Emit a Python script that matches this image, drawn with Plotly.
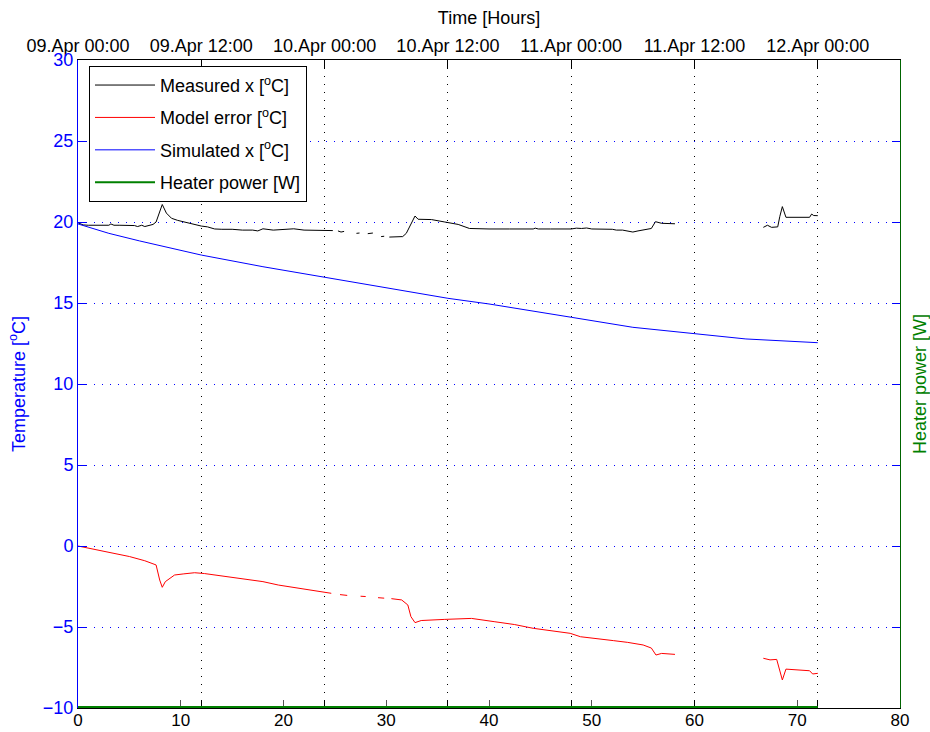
import plotly.graph_objects as go

# ---------------- data ----------------
meas_x = [0, 0.5, 1, 2, 3, 3.2, 3.5, 4, 5, 5.5, 5.8, 6.2, 6.5, 7, 7.3, 7.6, 7.95, 8.2, 8.6, 9.1,
          9.7, 10.3, 11, 12, 12.6, 13.3, 14, 15, 16, 17, 17.5, 18, 19, 20, 21, 22, 23, 24, 24.8,
          None, 25.3, 25.6, 25.9,
          None, 27.1, 27.4,
          None, 28.2, 28.7,
          None, 29.5, 29.8,
          None, 30.3, 31, 31.6, 31.95, 32.3, 32.8, 33.1, 34.4, 35.7, 37, 38.1, 39, 40, 42, 44.3,
          44.5, 44.8, 46, 48, 48.5, 49, 49.5, 50, 52, 52.4, 53, 54, 54.5, 55, 55.8, 56.2, 56.8, 58.1,
          None, 66.7, 67.1, 67.5, 68.1, 68.3, 68.55, 68.9, 71.2, 71.4, 71.6, 72]
meas_y = [19.95, 19.82, 19.80, 19.80, 19.80, 19.88, 19.80, 19.80, 19.80, 19.78, 19.72, 19.80, 19.72,
          19.80, 19.85, 20.00, 20.60, 21.08, 20.55, 20.23, 20.10, 20.00, 19.92, 19.75, 19.70, 19.57,
          19.55, 19.55, 19.50, 19.50, 19.45, 19.58, 19.50, 19.55, 19.58, 19.50, 19.48, 19.48, 19.47,
          None, 19.45, 19.38, 19.42,
          None, 19.30, 19.32,
          None, 19.28, 19.32,
          None, 19.10, 19.12,
          None, 19.07, 19.07, 19.10, 19.30, 19.71, 20.37, 20.17, 20.15, 20.00, 19.85, 19.60, 19.58,
          19.57, 19.57, 19.57, 19.62, 19.57, 19.57, 19.57, 19.62, 19.60, 19.63, 19.57, 19.55, 19.50,
          19.50, 19.38, 19.45, 19.50, 19.60, 20.02, 19.92, 19.89,
          None, 19.67, 19.80, 19.67, 19.70, 20.33, 20.95, 20.29, 20.29, 20.49, 20.40, 20.39]

err_x = [0, 1.5, 3.2, 5, 6.5, 7.2, 7.6, 7.95, 8.2, 8.5, 9.0, 9.4, 10.3, 11.35, 12.3, 14, 16.2, 18,
         19.5, 21, 22.7, 24.65,
         None, 25.5, 26.2,
         None, 27.5, 28.0,
         None, 29.2, 29.8,
         None, 30.5, 31.5, 32.1, 32.4, 32.8, 33.4, 35.7, 38.3, 40.5, 42.5, 44.3, 46, 47.9, 48.9,
         50.5, 52.1, 53.5, 55.0, 55.8, 56.25, 56.8, 58.1,
         None, 66.7, 67.35, 68.0, 68.3, 68.55, 68.9, 71.2, 71.5, 72.0]
err_y = [0, -0.2, -0.41, -0.65, -0.91, -1.05, -1.17, -2.1, -2.55, -2.2, -1.95, -1.79, -1.72, -1.65,
         -1.7, -1.85, -2.04, -2.2, -2.41, -2.55, -2.72, -2.92,
         None, -3.0, -3.05,
         None, -3.1, -3.12,
         None, -3.19, -3.22,
         None, -3.25, -3.33, -3.64, -4.36, -4.73, -4.6, -4.53, -4.47, -4.67, -4.85, -5.08, -5.22,
         -5.39, -5.6, -5.7, -5.84, -5.95, -6.11, -6.3, -6.73, -6.63, -6.69,
         None, -6.93, -7.03, -7.0, -7.65, -8.27, -7.6, -7.7, -7.9, -7.86]

sim_x = [0, 3, 6, 9, 12, 18, 24, 30, 36, 40, 44, 48, 54, 60, 65, 72]
sim_y = [19.88, 19.3, 18.83, 18.38, 17.96, 17.24, 16.59, 15.91, 15.29, 14.94, 14.55, 14.12, 13.5,
         13.09, 12.78, 12.55]

heat_x = [0, 72]
heat_y = [0, 0]

bottom_ticks = [0, 10, 20, 30, 40, 50, 60, 70, 80]
top_tickvals = [0, 12, 24, 36, 48, 60, 72]
top_ticktext = ["09.Apr 00:00", "09.Apr 12:00", "10.Apr 00:00", "10.Apr 12:00",
                "11.Apr 00:00", "11.Apr 12:00", "12.Apr 00:00"]
temp_ticks = [-10, -5, 0, 5, 10, 15, 20, 25, 30]

assert len(meas_x) == len(meas_y)
assert len(err_x) == len(err_y)

FONT = "Liberation Sans, Arial, sans-serif"
FS = 18

fig = go.Figure()
fig.add_trace(go.Scatter(x=meas_x, y=meas_y, mode="lines", name="Measured x [<sup>o</sup>C]",
                         line=dict(color="#000000", width=1), legendgroup="a"))
fig.add_trace(go.Scatter(x=err_x, y=err_y, mode="lines", name="Model error [<sup>o</sup>C]",
                         line=dict(color="#ff0000", width=1), legendgroup="b"))
fig.add_trace(go.Scatter(x=sim_x, y=sim_y, mode="lines", name="Simulated x [<sup>o</sup>C]",
                         line=dict(color="#0000ff", width=1), legendgroup="c"))
fig.add_trace(go.Scatter(x=heat_x, y=heat_y, mode="lines", name="Heater power [W]",
                         line=dict(color="#008000", width=2), legendgroup="d", yaxis="y2",
                         cliponaxis=False))
fig.add_trace(go.Scatter(x=[0, 80], y=[None, None], xaxis="x2", yaxis="y", showlegend=False,
                         hoverinfo="skip"))

fig.update_layout(
    width=930, height=732,
    margin=dict(l=78, r=30, t=60, b=24, autoexpand=False),
    paper_bgcolor="white", plot_bgcolor="white",
    font=dict(family=FONT, size=FS, color="black"),
    showlegend=True,
    legend=dict(x=0.0134, y=0.991, xanchor="left", yanchor="top",
                bgcolor="white", bordercolor="black", borderwidth=1, itemwidth=60,
                font=dict(size=FS, color="black"), tracegroupgap=6, traceorder="grouped"),
    xaxis=dict(range=[0, 80], tickvals=bottom_ticks, ticks="inside", ticklen=8,
               tickcolor="#555555", showline=True, linecolor="black", linewidth=1,
               showgrid=False, zeroline=False, automargin=False, layer="below traces",
               ticklabelstandoff=-3,
               tickfont=dict(size=17, color="black")),
    xaxis2=dict(range=[0, 80], overlaying="x", side="top", tickvals=top_tickvals,
                ticktext=top_ticktext, ticks="inside", ticklen=8, tickcolor="black",
                showline=True, linecolor="black", mirror="ticks", automargin=False,
                layer="below traces",
                showgrid=True, gridcolor="black", griddash="1px,7px", gridwidth=1,
                zeroline=False, tickfont=dict(size=FS, color="black"),
                title=dict(text="Time [Hours]", font=dict(size=FS, color="black"), standoff=6)),
    yaxis=dict(range=[-10, 30], tickvals=temp_ticks, ticks="inside", ticklen=8,
               tickcolor="#0000ff", showline=True, linecolor="#0000ff", linewidth=1,
               mirror="ticks", showgrid=True, gridcolor="#0000ff", griddash="1px,7px",
               gridwidth=1, zeroline=False, automargin=False,
               tickfont=dict(size=FS, color="#0000ff"),
               title=dict(text="Temperature [<sup>o</sup>C]", font=dict(size=FS, color="#0000ff"),
                          standoff=12)),
    yaxis2=dict(range=[-0.0016, 1], overlaying="y", side="right", showticklabels=False,
                ticks="", showgrid=False, zeroline=False, showline=True, automargin=False,
                linecolor="#006400", linewidth=1,
                title=dict(text="Heater power [W]", font=dict(size=FS, color="#008000"),
                           standoff=14)),
)

fig.write_html("out.html")
